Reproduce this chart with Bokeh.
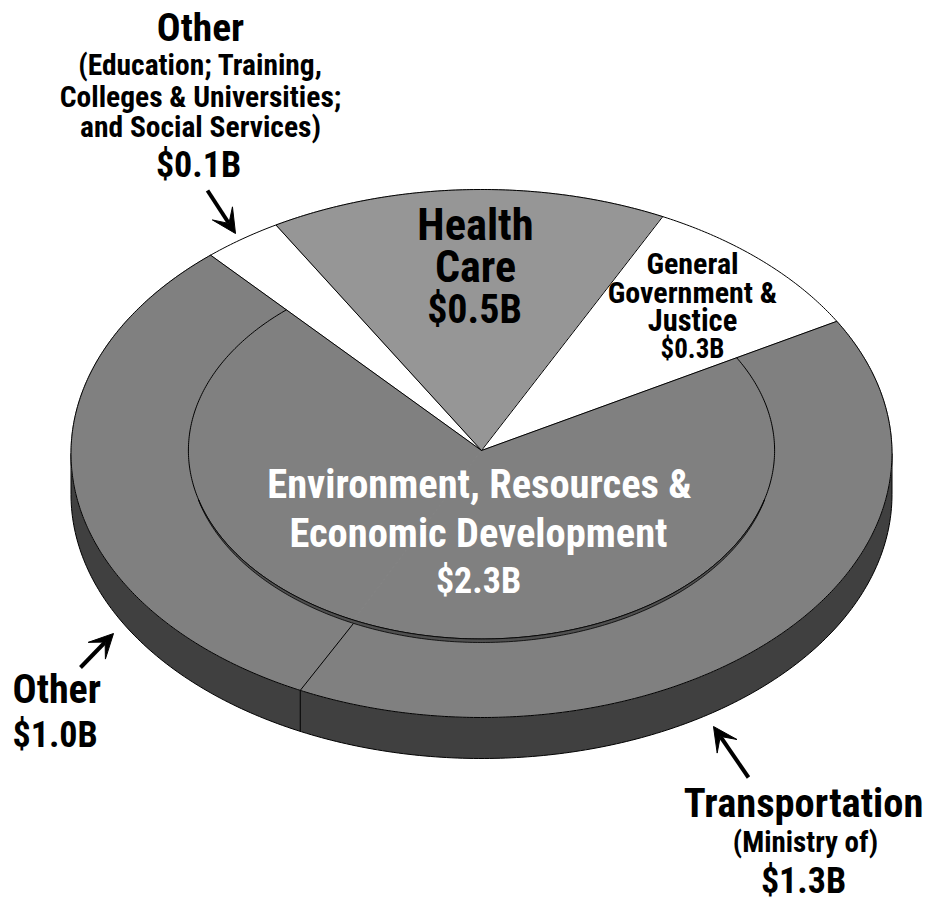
import numpy as np
from bokeh.plotting import figure
from bokeh.models import Arrow, VeeHead, ColumnDataSource
from bokeh.core.properties import value
from bokeh.embed import file_html
from bokeh.resources import INLINE

# --- data ---
slice_names = ["Other (Education)", "Health Care", "General Government & Justice", "Transportation", "Other"]
slice_values = [0.1, 0.5, 0.3, 1.3, 1.0]
slice_colors = ["#ffffff", "#969696", "#ffffff", "#808080", "#808080"]
FONT = "Roboto Condensed"
CAP = 0.711
# text, anchor x, baseline y, size, colour, align
labels = [
    ("Other", 200, 41, 39.5, "black", "center"),
    ("(Education; Training,", 200, 75, 29.5, "black", "center"),
    ("Colleges & Universities;", 200, 107, 29.5, "black", "center"),
    ("and Social Services)", 200, 137, 29.5, "black", "center"),
    ("$0.1B", 198, 177, 36, "black", "center"),
    ("Health", 475, 240, 44.5, "black", "center"),
    ("Care", 475, 282, 44, "black", "center"),
    ("$0.5B", 474, 323, 40, "black", "center"),
    ("General", 692, 274, 30, "black", "center"),
    ("Government &", 692, 303, 30, "black", "center"),
    ("Justice", 692, 331, 30.5, "black", "center"),
    ("$0.3B", 692, 358, 27, "black", "center"),
    ("Environment, Resources &", 479, 498, 40.5, "white", "center"),
    ("Economic Development", 478, 547, 40.5, "white", "center"),
    ("$2.3B", 478, 593, 36, "white", "center"),
    ("Other", 12, 703, 40, "black", "left"),
    ("$1.0B", 12, 747, 36, "black", "left"),
    ("Transportation", 803, 817, 40.5, "black", "center"),
    ("(Ministry of)", 805, 852, 29, "black", "center"),
    ("$1.3B", 803, 893, 36, "black", "center"),
]
# start x, start y, tip x, tip y
arrows = [(207, 190, 235, 233), (80, 667, 113, 633), (748, 777, 713, 726)]

# --- geometry ---
CX, CY, RX, RY = 481.0, 453.0, 410.5, 264.0
APEX_Y = 450.0
DEPTH = 41.0
INNER = 0.714
LIP = 3.5
START = 131.3


def ell(a, cy=CY, k=1.0):
    a = np.radians(a)
    return CX + k * RX * np.cos(a), cy - k * RY * np.sin(a)


def apex_angle(a):
    x, y = ell(a)
    return np.degrees(np.arctan2((APEX_Y - y) * RX / RY, x - CX))


W, H = 928, 897
p = figure(width=W, height=H, x_range=(0, W), y_range=(H, 0), output_backend="svg",
           toolbar_location=None, min_border=0, outline_line_color=None)
p.xaxis.visible = False
p.yaxis.visible = False
p.grid.visible = False

total = sum(slice_values)
cum = START - np.cumsum([0] + slice_values) * 360.0 / total  # clockwise

# side wall
t = np.linspace(180, 360, 240)
tx, ty = ell(t)
p.patch(np.r_[tx, tx[::-1]], np.r_[ty, (ty + DEPTH)[::-1]], fill_color="#404040", line_color="black", line_width=1)

# top face slices
for i, c in enumerate(slice_colors):
    t = np.linspace(cum[i], cum[i + 1], 200)
    x, y = ell(t)
    p.patch(np.r_[CX, x], np.r_[APEX_Y, y], fill_color=c, line_color=c, line_width=1)

# rim
t = np.linspace(0, 360, 720)
x, y = ell(t)
p.line(x, y, line_color="black", line_width=1)

# radial edges (all but the Transportation / Other boundary)
for a in [cum[0], cum[1], cum[2], cum[3]]:
    x, y = ell(a)
    p.line([CX, x], [APEX_Y, y], line_color="black", line_width=1)

# inner disc arc and its lip
a0, a1 = apex_angle(cum[3]), apex_angle(cum[0])
t = np.linspace(a0, a1 - 360, 400)
x, y = ell(t, APEX_Y, INNER)
p.line(x, y, line_color="black", line_width=1)
t2 = np.linspace(195, 345, 300)
xu, yu = ell(t2, APEX_Y, INNER)
off = LIP * np.clip(np.sin(np.radians((t2 - 195) * 180 / 150)), 0, 1) ** 0.4
p.patch(np.r_[xu, xu[::-1]], np.r_[yu, (yu + off)[::-1]], fill_color="#505050", line_color="black", line_width=0.8)

# Transportation / Other boundary
ea = apex_angle(cum[4])
jx, jy = ell(ea, APEX_Y + LIP, INNER)
ex, ey = ell(cum[4])
p.line([jx, ex], [jy, ey], line_color="black", line_width=1)
p.line([ex, ex], [ey, ey + DEPTH], line_color="black", line_width=1)

# labels (anchored on the middle of the capitals)
src = ColumnDataSource(dict(
    text=[l[0] for l in labels], x=[l[1] for l in labels], y=[l[2] - CAP * l[3] / 2 for l in labels],
    size=[f"{l[3]}px" for l in labels], color=[l[4] for l in labels], align=[l[5] for l in labels]))
p.text("x", "y", text="text", source=src, text_font=value(FONT), text_font_style="bold",
       text_font_size="size", text_color="color", text_align="align", text_baseline="middle")

# arrows
for x0, y0, x1, y1 in arrows:
    p.add_layout(Arrow(x_start=x0, y_start=y0, x_end=x1, y_end=y1, line_color="black", line_width=4,
                       end=VeeHead(size=24, fill_color="black", line_color="black", line_width=1)))

open("out.html", "w").write(file_html(p, INLINE))
